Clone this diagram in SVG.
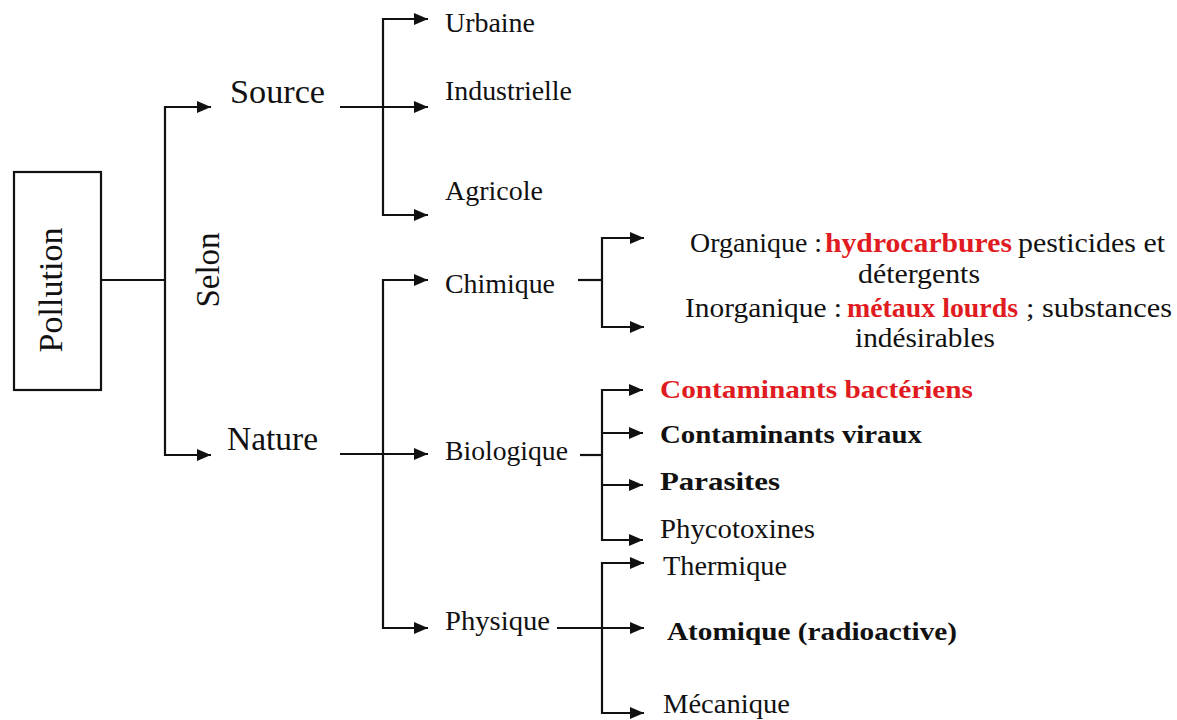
<svg xmlns="http://www.w3.org/2000/svg" width="1177" height="720" viewBox="0 0 1177 720">
<style>
.t{fill:#111}
.b{font-weight:bold}
.r{fill:#e01b22}
.c line{stroke:#111;stroke-width:2.2}
.a{marker-end:url(#arr)}
</style>
<defs>
<marker id="arr" markerUnits="userSpaceOnUse" markerWidth="14" markerHeight="12" refX="14" refY="6" orient="auto">
<path d="M0,0 L14,6 L0,12 z" fill="#111"/>
</marker>
</defs>
<rect width="1177" height="720" fill="#fff"/>
<g id="connectors" class="c">
<line x1="101" y1="280" x2="165" y2="280"/>
<line x1="165" y1="106" x2="165" y2="456"/>
<line class="a" x1="164" y1="107" x2="211" y2="107"/>
<line class="a" x1="164" y1="455" x2="211" y2="455"/>
<line class="a" x1="340" y1="107" x2="428" y2="107"/>
<line x1="383" y1="18" x2="383" y2="216"/>
<line class="a" x1="382" y1="19" x2="428" y2="19"/>
<line class="a" x1="382" y1="215" x2="428" y2="215"/>
<line class="a" x1="340" y1="454" x2="428" y2="454"/>
<line x1="383" y1="279" x2="383" y2="629"/>
<line class="a" x1="382" y1="280" x2="428" y2="280"/>
<line class="a" x1="382" y1="628" x2="428" y2="628"/>
<line x1="578" y1="280" x2="602" y2="280"/>
<line x1="602" y1="237" x2="602" y2="328"/>
<line class="a" x1="601" y1="238" x2="644" y2="238"/>
<line class="a" x1="601" y1="327" x2="644" y2="327"/>
<line x1="580" y1="455" x2="602" y2="455"/>
<line x1="602" y1="389" x2="602" y2="541"/>
<line class="a" x1="601" y1="390" x2="643" y2="390"/>
<line class="a" x1="601" y1="433" x2="643" y2="433"/>
<line class="a" x1="601" y1="485" x2="643" y2="485"/>
<line class="a" x1="601" y1="540" x2="643" y2="540"/>
<line class="a" x1="557" y1="628" x2="644" y2="628"/>
<line x1="602" y1="562" x2="602" y2="714"/>
<line class="a" x1="601" y1="563" x2="644" y2="563"/>
<line class="a" x1="601" y1="713" x2="644" y2="713"/>
</g>
<g font-family="Liberation Serif, DejaVu Serif, serif">
<g id="pollution">
<rect x="14" y="172" width="87" height="218" fill="none" stroke="#111" stroke-width="2.2"/>
<text class="t" font-size="33" text-anchor="middle" transform="translate(62,290) rotate(-90)" textLength="125" lengthAdjust="spacingAndGlyphs">Pollution</text>
</g>
<g id="selon">
<text class="t" font-size="33" text-anchor="middle" transform="translate(219,270) rotate(-90)" textLength="75" lengthAdjust="spacingAndGlyphs">Selon</text>
</g>
<g id="source"><text class="t" x="230" y="103" font-size="33" textLength="95" lengthAdjust="spacingAndGlyphs">Source</text></g>
<g id="nature"><text class="t" x="227" y="450" font-size="33" textLength="91" lengthAdjust="spacingAndGlyphs">Nature</text></g>
<g id="urbaine"><text class="t" x="445" y="32" font-size="28" textLength="90" lengthAdjust="spacingAndGlyphs">Urbaine</text></g>
<g id="industrielle"><text class="t" x="445" y="100" font-size="28" textLength="127" lengthAdjust="spacingAndGlyphs">Industrielle</text></g>
<g id="agricole"><text class="t" x="445" y="200" font-size="28" textLength="98" lengthAdjust="spacingAndGlyphs">Agricole</text></g>
<g id="chimique"><text class="t" x="445" y="293" font-size="28" textLength="110" lengthAdjust="spacingAndGlyphs">Chimique</text></g>
<g id="biologique"><text class="t" x="445" y="460" font-size="28" textLength="123" lengthAdjust="spacingAndGlyphs">Biologique</text></g>
<g id="physique"><text class="t" x="445" y="630" font-size="28" textLength="105" lengthAdjust="spacingAndGlyphs">Physique</text></g>
<g id="organique">
<text class="t" x="690" y="252" font-size="27" textLength="132" lengthAdjust="spacingAndGlyphs">Organique :</text>
<text class="t b r" x="825" y="252" font-size="27" textLength="187" lengthAdjust="spacingAndGlyphs">hydrocarbures</text>
<text class="t" x="1018" y="252" font-size="27" textLength="147" lengthAdjust="spacingAndGlyphs">pesticides et</text>
<text class="t" x="858" y="283" font-size="27" textLength="122" lengthAdjust="spacingAndGlyphs">détergents</text>
</g>
<g id="inorganique">
<text class="t" x="685" y="317" font-size="27" textLength="157" lengthAdjust="spacingAndGlyphs">Inorganique :</text>
<text class="t b r" x="847" y="317" font-size="27" textLength="171" lengthAdjust="spacingAndGlyphs">métaux lourds</text>
<text class="t" x="1026" y="317" font-size="27" textLength="146" lengthAdjust="spacingAndGlyphs">; substances</text>
<text class="t" x="855" y="347" font-size="27" textLength="140" lengthAdjust="spacingAndGlyphs">indésirables</text>
</g>
<g id="bacteriens"><text class="t b r" x="660" y="398" font-size="26" textLength="313" lengthAdjust="spacingAndGlyphs">Contaminants bactériens</text></g>
<g id="viraux"><text class="t b" x="660" y="443" font-size="26" textLength="262" lengthAdjust="spacingAndGlyphs">Contaminants viraux</text></g>
<g id="parasites"><text class="t b" x="660" y="490" font-size="26" textLength="120" lengthAdjust="spacingAndGlyphs">Parasites</text></g>
<g id="phycotoxines"><text class="t" x="660" y="538" font-size="27" textLength="155" lengthAdjust="spacingAndGlyphs">Phycotoxines</text></g>
<g id="thermique"><text class="t" x="663" y="575" font-size="27" textLength="124" lengthAdjust="spacingAndGlyphs">Thermique</text></g>
<g id="atomique"><text class="t b" x="667" y="640" font-size="26" textLength="290" lengthAdjust="spacingAndGlyphs">Atomique (radioactive)</text></g>
<g id="mecanique"><text class="t" x="663" y="713" font-size="27" textLength="127" lengthAdjust="spacingAndGlyphs">Mécanique</text></g>
</g>
</svg>
